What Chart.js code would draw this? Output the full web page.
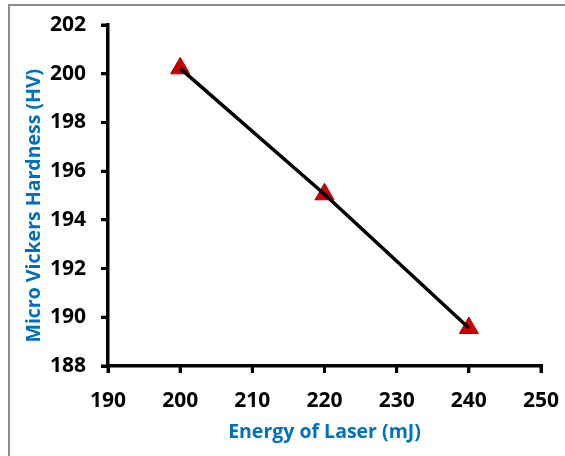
<!DOCTYPE html>
<html>
<head>
<meta charset="utf-8">
<script src="https://cdn.jsdelivr.net/npm/chart.js@4"></script>
<style>
  html, body { margin: 0; padding: 0; background: #fff; }
</style>
</head>
<body>
<canvas id="hardnessChart" width="565" height="456"></canvas>
<script>
// Micro Vickers hardness vs laser energy
const energy = [200, 220, 240];
const hardness = [200.22, 195.05, 189.56];
const xTicks = [190, 200, 210, 220, 230, 240, 250];
const yTicks = [188, 190, 192, 194, 196, 198, 200, 202];

const blue = '#0070C0';
const tickFont = { family: 'Open Sans', size: 21, weight: 'bold' };
const titleFont = { family: 'Open Sans', size: 19.5, weight: 'bold' };

// grey frame at top and left, plus outward tick marks on both axes
const framePlugin = {
    id: 'frame',
    afterDraw(chart) {
        const ctx = chart.ctx;
        const area = chart.chartArea;
        ctx.save();
        ctx.strokeStyle = '#8c8c8c';
        ctx.lineWidth = 2;
        ctx.beginPath();
        ctx.moveTo(9, 456);
        ctx.lineTo(9, 5);
        ctx.lineTo(565, 5);
        ctx.stroke();

        ctx.strokeStyle = '#000';
        ctx.lineWidth = 3;
        ctx.beginPath();
        xTicks.forEach(v => {
            const px = chart.scales.x.getPixelForValue(v);
            ctx.moveTo(px, area.bottom);
            ctx.lineTo(px, area.bottom + 7);
        });
        yTicks.forEach(v => {
            const py = chart.scales.y.getPixelForValue(v);
            ctx.moveTo(area.left, py);
            ctx.lineTo(area.left - 7, py);
        });
        ctx.stroke();
        ctx.restore();
    }
};

const points = energy.map((x, i) => ({ x: x, y: hardness[i] }));

const ctx = document.getElementById('hardnessChart').getContext('2d');
new Chart(ctx, {
    type: 'scatter',
    data: {
        datasets: [
            {
                label: 'Trend',
                data: points,
                showLine: true,
                borderColor: '#000',
                borderWidth: 3.5,
                pointRadius: 0,
                order: 0
            },
            {
                label: 'Hardness',
                data: points,
                pointStyle: 'triangle',
                pointRadius: 11,
                backgroundColor: '#cc0000',
                borderColor: '#b00000',
                borderWidth: 1,
                order: 1
            }
        ]
    },
    options: {
        responsive: false,
        animation: false,
        devicePixelRatio: 1,
        layout: { padding: { top: 25, right: 24, left: 0, bottom: 0 } },
        plugins: {
            legend: { display: false },
            tooltip: { enabled: false }
        },
        scales: {
            x: {
                type: 'linear',
                min: 190,
                max: 250,
                afterBuildTicks(axis) { axis.ticks = xTicks.map(v => ({ value: v })); },
                afterFit(axis) {
                    axis.height = 90;
                    axis.paddingRight = 0;
                    axis.paddingLeft = 0;
                },
                border: { color: '#000', width: 3.5 },
                grid: { display: true, drawOnChartArea: false, drawTicks: true, tickLength: 7, tickColor: '#000', tickWidth: 3, color: '#000', lineWidth: 3 },
                ticks: { color: '#000', font: tickFont, padding: 15, maxRotation: 0 },
                title: { display: true, text: 'Energy of Laser (mJ)', color: blue, font: titleFont, padding: { top: 0, bottom: 12 } }
            },
            y: {
                type: 'linear',
                min: 188,
                max: 202,
                afterBuildTicks(axis) { axis.ticks = yTicks.map(v => ({ value: v })); },
                afterFit(axis) {
                    axis.width = 108;
                    axis.paddingTop = 0;
                    axis.paddingBottom = 0;
                },
                border: { color: '#000', width: 3.5 },
                grid: { display: true, drawOnChartArea: false, drawTicks: true, tickLength: 7, tickColor: '#000', tickWidth: 3, color: '#000', lineWidth: 3 },
                ticks: { color: '#000', font: tickFont, padding: 15 },
                title: { display: true, text: 'Micro Vickers Hardness (HV)    ', color: blue, font: titleFont, padding: { top: 23, bottom: 0 } }
            }
        }
    },
    plugins: [framePlugin]
});
</script>
</body>
</html>
